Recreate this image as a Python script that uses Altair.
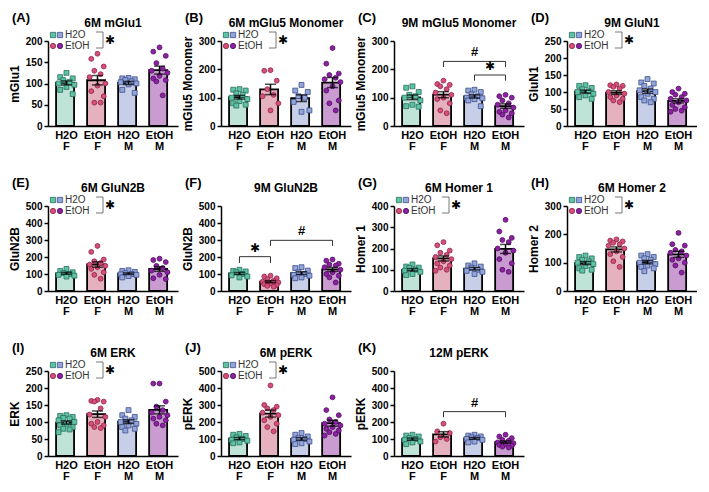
import altair as alt
import pandas as pd

GROUPS = ["H2O F", "EtOH F", "H2O M", "EtOH M"]
BAR_FILL = ["#bfe3d6", "#e6b1bf", "#c7cfe8", "#c99bd1"]
PT_FILL = ["#5ec3a5", "#d44f79", "#93a5d9", "#8d21a3"]
PT_STROKE = ["#2a6e5d", "#8f2548", "#3e4f8d", "#4e0e5e"]
SHAPES = ["square", "circle", "square", "circle"]

# ---- data ----
mglu1_6m = {
    "H2O F": [125, 115, 112, 108, 104, 100, 97, 92, 85, 75],
    "EtOH F": [170, 158, 140, 130, 122, 115, 100, 95, 82, 70, 55, 55],
    "H2O M": [113, 112, 110, 108, 105, 103, 100, 98, 85, 78],
    "EtOH M": [185, 175, 165, 148, 135, 130, 125, 118, 112, 108, 105, 72],
}
mglu5_6m = {
    "H2O F": [130, 128, 125, 115, 110, 100, 95, 88, 80, 75, 72],
    "EtOH F": [197, 195, 160, 130, 110, 105, 80, 55],
    "H2O M": [145, 125, 120, 105, 100, 85, 55, 50],
    "EtOH M": [275, 220, 185, 180, 170, 165, 155, 140, 125, 90, 80, 55],
}
mglu5_9m = {
    "H2O F": [140, 135, 120, 110, 105, 100, 90, 75, 70, 68],
    "EtOH F": [160, 148, 145, 140, 130, 118, 110, 100, 95, 80, 55, 45],
    "H2O M": [128, 125, 120, 112, 105, 100, 98, 95, 90, 70],
    "EtOH M": [110, 105, 100, 90, 80, 75, 65, 55, 50, 45, 40, 30],
}
glun1_9m = {
    "H2O F": [120, 118, 112, 108, 102, 100, 95, 90, 85, 80],
    "EtOH F": [122, 120, 118, 115, 110, 100, 95, 90, 85, 80, 75, 70],
    "H2O M": [138, 128, 125, 118, 110, 105, 100, 95, 85, 80, 75, 70],
    "EtOH M": [110, 100, 95, 92, 85, 80, 75, 70, 62, 55, 50, 42, 45],
}
glun2b_6m = {
    "H2O F": [130, 118, 110, 105, 100, 95, 90, 85],
    "EtOH F": [265, 230, 185, 175, 165, 155, 148, 140, 130, 110, 95, 72],
    "H2O M": [122, 118, 112, 105, 100, 98, 95, 88, 80],
    "EtOH M": [190, 182, 170, 148, 135, 120, 110, 95, 75, 70],
}
glun2b_9m = {
    "H2O F": [125, 118, 115, 110, 100, 92, 85, 80],
    "EtOH F": [90, 85, 75, 70, 60, 55, 50, 45, 40, 35, 30, 25],
    "H2O M": [140, 135, 120, 110, 100, 95, 90, 80, 75],
    "EtOH M": [185, 178, 160, 155, 150, 140, 125, 110, 100, 90, 80, 50],
}
homer1_6m = {
    "H2O F": [125, 115, 110, 108, 100, 95, 90, 80, 75],
    "EtOH F": [230, 215, 190, 180, 170, 160, 150, 140, 130, 120, 110, 100, 95],
    "H2O M": [130, 120, 115, 110, 100, 95, 90, 80],
    "EtOH M": [335, 280, 250, 240, 230, 200, 190, 180, 150, 130, 100, 90],
}
homer2_6m = {
    "H2O F": [125, 120, 115, 110, 105, 100, 95, 88, 80, 75, 72],
    "EtOH F": [182, 178, 175, 170, 165, 160, 150, 140, 130, 120, 105, 85],
    "H2O M": [130, 125, 120, 115, 110, 100, 95, 90, 85, 80, 70],
    "EtOH M": [205, 165, 160, 145, 140, 135, 125, 115, 110, 100, 90, 65],
}
erk_6m = {
    "H2O F": [120, 118, 115, 112, 110, 105, 100, 95, 90, 85, 80, 78, 70],
    "EtOH F": [165, 162, 160, 160, 140, 122, 115, 100, 95, 90, 85, 82],
    "H2O M": [135, 120, 115, 110, 105, 100, 95, 90, 85, 80, 75],
    "EtOH M": [213, 213, 160, 145, 135, 128, 120, 115, 110, 105, 95, 90],
}
perk_6m = {
    "H2O F": [130, 125, 118, 110, 100, 95, 90, 80, 75],
    "EtOH F": [415, 300, 290, 280, 270, 255, 240, 230, 210, 190, 170, 145],
    "H2O M": [135, 125, 115, 105, 100, 95, 85, 75, 70],
    "EtOH M": [345, 270, 240, 215, 200, 190, 180, 170, 160, 150, 140, 130, 120],
}
perk_12m = {
    "H2O F": [125, 120, 115, 105, 100, 95, 85, 80, 70],
    "EtOH F": [190, 145, 135, 110, 100, 85],
    "H2O M": [125, 120, 115, 110, 105, 100, 95, 85, 80],
    "EtOH M": [125, 115, 105, 95, 90, 80, 75, 70, 65, 60, 55, 50],
}

# significance brackets: (left group, right group, line level, drop level, label)
brackets_c = [("EtOH F", "EtOH M", 228, 208, "#"), ("H2O M", "EtOH M", 180, 160, "✱")]
brackets_f = [("H2O F", "EtOH F", 202, 165, "✱"), ("EtOH F", "EtOH M", 298, 265, "#")]
brackets_k = [("EtOH F", "EtOH M", 261, 228, "#")]

PANELS = [
    ("(A)", "6M mGlu1", "mGlu1", 200, 50, mglu1_6m, True, []),
    ("(B)", "6M mGlu5 Monomer", "mGlu5 Monomer", 300, 100, mglu5_6m, True, []),
    ("(C)", "9M mGlu5 Monomer", "mGlu5 Monomer", 300, 100, mglu5_9m, False, brackets_c),
    ("(D)", "9M GluN1", "GluN1", 250, 50, glun1_9m, True, []),
    ("(E)", "6M GluN2B", "GluN2B", 500, 100, glun2b_6m, True, []),
    ("(F)", "9M GluN2B", "GluN2B", 500, 100, glun2b_9m, False, brackets_f),
    ("(G)", "6M Homer 1", "Homer 1", 400, 100, homer1_6m, True, []),
    ("(H)", "6M Homer 2", "Homer 2", 300, 100, homer2_6m, True, []),
    ("(I)", "6M ERK", "ERK", 250, 50, erk_6m, True, []),
    ("(J)", "6M pERK", "pERK", 500, 100, perk_6m, True, []),
    ("(K)", "12M pERK", "pERK", 500, 100, perk_12m, False, brackets_k),
]

# ---- style ----
FONT = "Liberation Sans"
W, H = 130, 85
PI, PO = 0.33, 0.26
STEP = W / (len(GROUPS) - PI + 2 * PO)
JITTER = [0.0, -0.75, 0.75, -0.38, 0.38, -0.95, 0.95]
ONE = pd.DataFrame({"k": [0]})


def legend_layers():
    layers = []
    for x, y, gi in [(5, -6, 0), (12, -6, 2), (5, 5, 1), (12, 5, 3)]:
        layers.append(
            alt.Chart(ONE).mark_point(shape=SHAPES[gi], filled=True, fill=PT_FILL[gi],
                                      stroke=PT_STROKE[gi], strokeWidth=0.8, size=28, opacity=1)
            .encode(x=alt.value(x), y=alt.value(y)))
    for x, y, t in [(17, -6, "H2O"), (17, 5, "EtOH")]:
        layers.append(
            alt.Chart(ONE).mark_text(text=t, align="left", baseline="middle", font=FONT,
                                     fontSize=10, color="#333333")
            .encode(x=alt.value(x), y=alt.value(y)))
    for x1, y1, x2, y2 in [(48, -9, 55, -9), (55, -9, 55, 7), (48, 7, 55, 7)]:
        layers.append(
            alt.Chart(ONE).mark_rule(color="#555555", strokeWidth=0.8)
            .encode(x=alt.value(x1), y=alt.value(y1), x2=alt.value(x2), y2=alt.value(y2)))
    layers.append(
        alt.Chart(ONE).mark_text(text="✱", align="center", baseline="middle", font="DejaVu Sans",
                                 fontSize=12, fontWeight="bold", color="black")
        .encode(x=alt.value(62), y=alt.value(-1)))
    return layers


def make_panel(letter, title, ytitle, ymax, ystep, data, legend, brackets):
    rows = []
    for g in GROUPS:
        for i, v in enumerate(sorted(data[g], reverse=True)):
            rows.append({"group": g, "value": v, "jit": JITTER[i % len(JITTER)]})
    df = pd.DataFrame(rows)

    xscale = alt.Scale(domain=GROUPS, paddingInner=PI, paddingOuter=PO)
    yscale = alt.Scale(domain=[0, ymax], nice=False)
    xaxis = alt.Axis(title=None, labelAngle=0, labelFont=FONT, labelFontWeight="bold",
                     labelFontSize=11, labelColor="black", labelExpr="split(datum.label, ' ')",
                     labelLineHeight=11, labelPadding=3, ticks=False, domainColor="black",
                     domainWidth=1.5, grid=False)
    yaxis = alt.Axis(values=list(range(0, ymax + 1, ystep)), grid=False, tickSize=4,
                     tickWidth=1.5, tickColor="black", domainColor="black", domainWidth=1.5,
                     labelFont=FONT, labelFontWeight="bold", labelFontSize=10, labelColor="black",
                     labelPadding=2, titleFont=FONT, titleFontWeight="bold", titleFontSize=12,
                     titleColor="black", titlePadding=4)

    def X(field="group:N"):
        return alt.X(field, scale=xscale, axis=xaxis, title=None)

    def Y(field):
        return alt.Y(field, scale=yscale, axis=yaxis, title=ytitle)

    base = alt.Chart(df)
    bars = base.mark_bar(stroke="black", strokeWidth=1.8).encode(
        x=X(), y=Y("mean(value):Q"),
        fill=alt.Fill("group:N", scale=alt.Scale(domain=GROUPS, range=BAR_FILL), legend=None))
    pts = base.mark_point(filled=True, size=24, strokeWidth=0.8, opacity=1).encode(
        x=X(), xOffset=alt.XOffset("jit:Q", scale=alt.Scale(domain=[-1.25, 1.25])),
        y=Y("value:Q"),
        shape=alt.Shape("group:N", scale=alt.Scale(domain=GROUPS, range=SHAPES), legend=None),
        color=alt.Color("group:N", scale=alt.Scale(domain=GROUPS, range=PT_FILL), legend=None),
        stroke=alt.Stroke("group:N", scale=alt.Scale(domain=GROUPS, range=PT_STROKE), legend=None))
    err = base.mark_errorbar(extent="stderr", color="black", thickness=1.5,
                             ticks={"size": 11, "thickness": 1.5, "color": "black"}).encode(
        x=X(), y=Y("value:Q"))

    layers = [bars, pts, err]

    for bi, (g1, g2, yl, yd, lab) in enumerate(brackets):
        bdf = pd.DataFrame({"group": [g1, g1, g2, g2], "yv": [yd, yl, yl, yd],
                            "ord": [0, 1, 2, 3]})
        layers.append(alt.Chart(bdf).mark_line(color="#333333", strokeWidth=1).encode(
            x=X(), y=Y("yv:Q"), order="ord:Q"))
        dx = (GROUPS.index(g2) - GROUPS.index(g1)) * STEP / 2
        ldf = pd.DataFrame({"group": [g1], "yv": [yl]})
        is_star = lab == "✱"
        layers.append(alt.Chart(ldf).mark_text(
            text=lab, dx=dx, dy=-2, baseline="bottom", align="center",
            font="DejaVu Sans" if is_star else FONT, fontWeight="bold",
            fontSize=12 if is_star else 13, color="black").encode(x=X(), y=Y("yv:Q")))

    if legend:
        layers += legend_layers()

    layers.append(alt.Chart(ONE).mark_text(text=letter, align="left", baseline="middle",
                                           font=FONT, fontSize=13, fontWeight="bold",
                                           color="black")
                  .encode(x=alt.value(-36), y=alt.value(-23)))
    layers.append(alt.Chart(ONE).mark_text(text=title, align="center", baseline="middle",
                                           font=FONT, fontSize=12, fontWeight="bold",
                                           color="black")
                  .encode(x=alt.value(W / 2), y=alt.value(-18)))

    return alt.layer(*layers).properties(width=W, height=H)


charts = [make_panel(*p) for p in PANELS]
chart = alt.concat(*charts, columns=4, spacing={"row": 80, "column": 43},
                   bounds="flush").properties(
    padding={"top": 4, "left": 0, "right": 0, "bottom": 0}).configure_view(stroke=None)

chart.save("out.html", embed_options={"renderer": "svg", "actions": False})
